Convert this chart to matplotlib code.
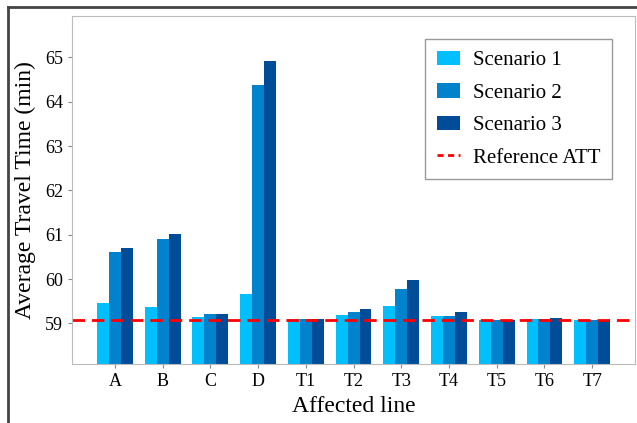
import numpy as np
import matplotlib
matplotlib.use('Agg')
import matplotlib.pyplot as plt
from matplotlib.lines import Line2D

lines = ['A', 'B', 'C', 'D', 'T1', 'T2', 'T3', 'T4', 'T5', 'T6', 'T7']
scenario_1 = [59.46, 59.37, 59.15, 59.66, 59.10, 59.18, 59.39, 59.16, 59.08, 59.10, 59.08]
scenario_2 = [60.60, 60.91, 59.21, 64.38, 59.10, 59.25, 59.77, 59.16, 59.08, 59.10, 59.08]
scenario_3 = [60.69, 61.01, 59.21, 64.91, 59.10, 59.32, 59.98, 59.25, 59.08, 59.12, 59.08]
reference_att = 59.075

plt.rcParams['font.family'] = ['Liberation Serif', 'DejaVu Serif']

fig = plt.figure(figsize=(6.37, 4.23), dpi=100)
ax = fig.add_axes([0.113, 0.139, 0.884, 0.823])

x = np.arange(len(lines))
w = 0.25
b1 = ax.bar(x - w, scenario_1, w, color='#00BFFF', label='Scenario 1')
b2 = ax.bar(x, scenario_2, w, color='#0082CC', label='Scenario 2')
b3 = ax.bar(x + w, scenario_3, w, color='#004C98', label='Scenario 3')
ax.axhline(reference_att, color='red', ls='--', lw=2, dashes=(4.5, 2.5))
# legend handle with shorter dashes, as in the original
ref_handle = Line2D([], [], color='red', lw=2, dashes=(2.2, 1.6))

ax.set_xlim(-0.9, 10.9)
ax.set_ylim(58.08, 65.93)
ax.set_xticks(x)
ax.set_xticklabels(lines)
ax.set_yticks([59, 60, 61, 62, 63, 64, 65])
ax.tick_params(labelsize=13, length=3, color='#888888')
ax.set_xlabel('Affected line', fontsize=17)
ax.set_ylabel('Average Travel Time (min)', fontsize=17, labelpad=6)
for s in ax.spines.values():
    s.set_color('#bbbbbb')

ax.legend([b1, b2, b3, ref_handle], ['Scenario 1', 'Scenario 2', 'Scenario 3', 'Reference ATT'],
          loc='upper right', bbox_to_anchor=(0.959, 0.934), fontsize=15, fancybox=False,
          edgecolor='#999999', framealpha=1, borderpad=0.55, labelspacing=0.62,
          handlelength=1.1, handletextpad=0.65, borderaxespad=0)

# outer frame of the picture
fig.add_artist(Line2D([8/637, 8/637], [0, 1 - 7/423], color='#444444', lw=2, transform=fig.transFigure))
fig.add_artist(Line2D([8/637, 1], [1 - 7/423, 1 - 7/423], color='#444444', lw=2, transform=fig.transFigure))

fig.savefig('out.png', dpi=100)
